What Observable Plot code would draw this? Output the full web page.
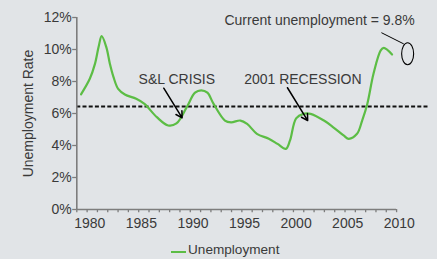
<!DOCTYPE html>
<html>
<head>
<meta charset="utf-8">
<script src="https://cdn.jsdelivr.net/npm/d3@7"></script>
<script src="https://cdn.jsdelivr.net/npm/@observablehq/plot@0.6"></script>
<style>
  html, body { margin: 0; padding: 0; background: #e1e4e7; }
  #wrap { width: 437px; font-family: "Liberation Sans", Arial, sans-serif; }
  #legend { position: relative; height: 23px; width: 437px; }
  #legend .swatch { position: absolute; left: 171px; top: 15px; width: 15px; height: 2px; background: #5cbd45; }
  #legend .lbl { position: absolute; left: 188px; top: 6px; font-size: 13.6px; line-height: 16px; color: #3a3a3a; }
</style>
</head>
<body>
<div id="wrap"></div>
<script>
// Series (year, unemployment rate %)
const years = [1979.15, 1980, 1980.5, 1980.85, 1981.15, 1981.6, 1981.95, 1982.3, 1982.75, 1983.4, 1984.5, 1985.3, 1986.5, 1987.6, 1988.4, 1989.4, 1990.2, 1990.8, 1991.4, 1992, 1993.1, 1993.7, 1994.6, 1995.25, 1996.2, 1997.35, 1998.2, 1999.0, 1999.4, 2000, 2000.7, 2001.4, 2002.7, 2003.6, 2004.6, 2005.1, 2005.9, 2006.4, 2006.9, 2007.5, 2008.2, 2008.5, 2009.3];
const rates = [7.2, 8.17, 9.1, 10.15, 10.83, 10.15, 9.1, 8.27, 7.54, 7.19, 6.92, 6.6, 5.77, 5.25, 5.38, 6.4, 7.3, 7.45, 7.3, 6.6, 5.56, 5.45, 5.56, 5.35, 4.73, 4.42, 4.1, 3.79, 4.3, 5.7, 5.98, 5.98, 5.56, 5.14, 4.63, 4.42, 4.73, 5.56, 6.6, 8.48, 9.94, 10.1, 9.69];

const xLabels = [1980, 1985, 1990, 1995, 2000, 2005, 2010];
const yTicks = [0, 2, 4, 6, 8, 10, 12];
const xStart = 1978.74, xEnd = 2009.74;
const xMinor = d3.range(0, 32).map(k => xStart + k);
const referenceLevel = 6.44;

const noteTexts = ["Current unemployment = 9.8%", "S&L CRISIS", "2001 RECESSION"];
const noteX = [1993.05, 1984.73, 1994.96];
const noteY = [11.84, 8.125, 8.125];

const arrowX1 = [1987.17, 1999.16];
const arrowY1 = [7.58, 7.61];
const arrowX2 = [1988.95, 2001.12];
const arrowY2 = [5.73, 5.56];

const pointerX = [2008.30, 2010.40];
const pointerY = [11.04, 10.36];
const ringX = [2010.81];
const ringY = [9.73];

const series = years.map((y, i) => ({year: y, rate: rates[i]}));
const notes = noteTexts.map((t, i) => ({text: t, x: noteX[i], y: noteY[i]}));
const arrows = arrowX1.map((x, i) => ({x1: x, y1: arrowY1[i], x2: arrowX2[i], y2: arrowY2[i]}));

const green = "#5cbd45";
const axisGray = "#7d7d7d";
const textColor = "#3a3a3a";

const ellipseSymbol = {
  draw(ctx) {
    const rx = 6, ry = 11, k = 0.5523;
    ctx.moveTo(rx, 0);
    ctx.bezierCurveTo(rx, ry * k, rx * k, ry, 0, ry);
    ctx.bezierCurveTo(-rx * k, ry, -rx, ry * k, -rx, 0);
    ctx.bezierCurveTo(-rx, -ry * k, -rx * k, -ry, 0, -ry);
    ctx.bezierCurveTo(rx * k, -ry, rx, -ry * k, rx, 0);
    ctx.closePath();
  }
};

const chart = Plot.plot({
  width: 437,
  height: 236,
  marginLeft: 76.3,
  marginRight: 8.3,
  marginTop: 17,
  marginBottom: 27,
  style: {background: "#e1e4e7", fontFamily: "'Liberation Sans', Arial, sans-serif", fontSize: "14px", color: textColor},
  x: {domain: [xStart, 2012.9], axis: null},
  y: {domain: [0, 12], axis: null},
  marks: [
    // reference dashed line
    Plot.ruleY([referenceLevel], {stroke: "#111", strokeWidth: 2, strokeDasharray: "4,2.2"}),
    // axes lines
    Plot.ruleX([xStart], {y1: 0, y2: 12, stroke: axisGray, strokeWidth: 1.6}),
    Plot.ruleY([0], {x1: xStart, x2: xEnd, stroke: axisGray, strokeWidth: 1.6}),
    // y ticks
    Plot.ruleY(yTicks, {x1: xStart - 0.4, x2: xStart, stroke: axisGray, strokeWidth: 1.3}),
    Plot.text(yTicks, {x: xStart, y: d => d, dx: -5, textAnchor: "end", text: d => d + "%", fill: textColor, fontSize: 14}),
    // x ticks
    Plot.ruleX(xMinor, {y1: 0, y2: -0.2, stroke: axisGray, strokeWidth: 1.3}),
    Plot.text(xLabels, {x: d => d, y: 0, dy: 14.3, text: d => String(d), fill: textColor, fontSize: 14}),
    // y axis title
    Plot.text(["Unemployment Rate"], {frameAnchor: "left", textAnchor: "middle", dx: -48.5, rotate: -90, fill: textColor, fontSize: 14}),
    // series
    Plot.line(series, {x: "year", y: "rate", curve: "catmull-rom", stroke: green, strokeWidth: 2.2}),
    // annotations
    Plot.text(notes, {x: "x", y: "y", text: "text", textAnchor: "start", fill: textColor, fontSize: 14}),
    Plot.arrow(arrows, {x1: "x1", y1: "y1", x2: "x2", y2: "y2", stroke: "#000", strokeWidth: 1.5, headLength: 7}),
    Plot.line(pointerX.map((x, i) => ({x, y: pointerY[i]})), {x: "x", y: "y", stroke: "#000", strokeWidth: 1}),
    Plot.dot(ringX.map((x, i) => ({x, y: ringY[i]})), {x: "x", y: "y", symbol: ellipseSymbol, r: 6, stroke: "#000", strokeWidth: 1.1, fill: "none"})
  ]
});

const wrap = document.getElementById("wrap");
wrap.appendChild(chart);
const legend = document.createElement("div");
legend.id = "legend";
legend.innerHTML = '<span class="swatch"></span><span class="lbl">Unemployment</span>';
wrap.appendChild(legend);
</script>
</body>
</html>
